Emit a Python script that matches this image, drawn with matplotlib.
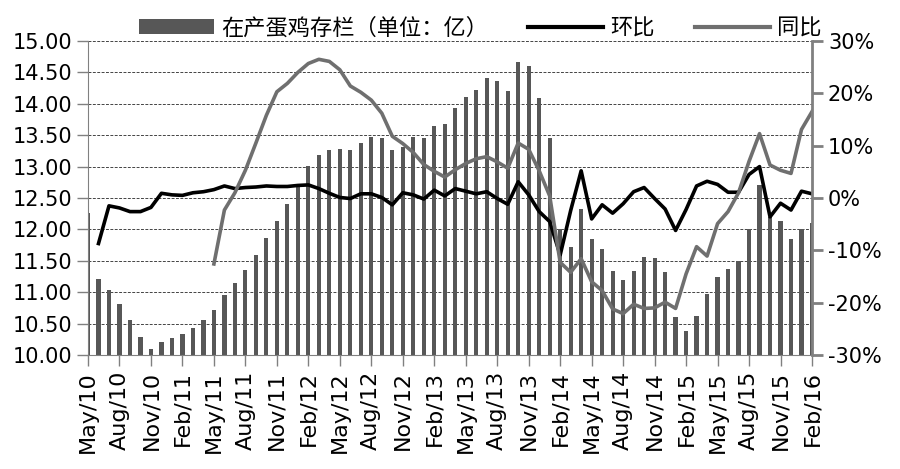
import numpy as np
import pandas as pd
import matplotlib
matplotlib.use('Agg')
import matplotlib.pyplot as plt
from matplotlib.patches import Patch
from matplotlib.lines import Line2D

plt.rcParams['font.family'] = ['DejaVu Sans', 'Noto Sans CJK SC']
plt.rcParams['axes.unicode_minus'] = False

# ─── Data ───────────────────────────────────────────────────────────
months = pd.date_range('2010-05-01', periods=70, freq='MS').strftime('%b/%y').tolist()

# laying hen inventory, 100 million
stock = [12.26, 11.21, 11.03, 10.82, 10.55, 10.28, 10.10, 10.20,
         10.27, 10.34, 10.43, 10.56, 10.72, 10.96, 11.14, 11.35, 11.59, 11.87, 12.14, 12.40,
         12.71, 13.01, 13.19, 13.26, 13.28, 13.26, 13.38, 13.47, 13.46, 13.26, 13.32, 13.47,
         13.45, 13.64, 13.68, 13.93, 14.11, 14.22, 14.41, 14.37, 14.21, 14.66, 14.60, 14.10,
         13.45, 12.00, 11.72, 12.32, 11.84, 11.69, 11.33, 11.19, 11.34, 11.56, 11.54, 11.32,
         10.60, 10.38, 10.62, 10.97, 11.25, 11.37, 11.50, 12.00, 12.71, 12.20, 12.13, 11.85,
         12.00, 12.10]

# month-on-month, %
mom = [np.nan, -8.7, -1.5, -1.9, -2.6, -2.6, -1.8, 0.9,
       0.6, 0.5, 1.0, 1.2, 1.6, 2.3, 1.8, 2.0, 2.1, 2.3, 2.2, 2.2,
       2.4, 2.5, 1.8, 0.9, 0.1, -0.1, 0.8, 0.8, 0.1, -1.3, 1.0, 0.6,
       -0.2, 1.5, 0.4, 1.8, 1.3, 0.8, 1.2, -0.1, -1.2, 3.1, 0.6, -2.6,
       -4.5, -10.9, -2.4, 5.2, -4.0, -1.3, -2.9, -1.1, 1.2, 2.0, -0.1, -2.1,
       -6.2, -2.2, 2.3, 3.2, 2.6, 1.1, 1.1, 4.5, 6.0, -3.6, -1.0, -2.3,
       1.3, 0.8]

# year-on-year, % (starts May/11)
yoy = [np.nan] * 12 + [
       -12.6, -2.3, 1.0, 5.3, 10.5, 15.8, 20.3, 21.9,
       24.0, 25.7, 26.5, 26.1, 24.5, 21.4, 20.2, 18.7, 16.2, 11.8, 10.4, 8.7,
       6.4, 5.1, 4.0, 5.4, 6.6, 7.5, 7.9, 6.9, 5.7, 10.5, 9.3, 5.2,
       0.4, -12.3, -14.2, -11.6, -16.0, -17.7, -21.2, -22.1, -20.3, -21.1, -21.0, -19.9,
       -21.1, -14.5, -9.3, -11.1, -4.9, -2.6, 1.0, 7.0, 12.3, 6.3, 5.3, 4.7,
       13.1, 16.5]

left_ticks = [10.0, 10.5, 11.0, 11.5, 12.0, 12.5, 13.0, 13.5, 14.0, 14.5, 15.0]
right_ticks = [-30, -20, -10, 0, 10, 20, 30]

bar_color = '#575757'
gray_line = '#6f6f6f'
axis_gray = '#808080'

x = np.arange(len(months))

fig = plt.figure(figsize=(9, 4.69), dpi=100)
ax = fig.add_axes([88 / 900, 1 - 355 / 469, (812 - 88) / 900, (355 - 41) / 469])

ax.bar(x, stock, width=0.4, color=bar_color, zorder=2)
ax.set_xlim(0, len(months) - 1)
ax.set_ylim(10, 15)
ax.set_yticks(left_ticks)
ax.set_yticklabels([f'{v:.2f}' for v in left_ticks], fontsize=15)
ax.yaxis.grid(True, linestyle=(0, (3, 1.5)), color='#444444', linewidth=0.7)
ax.set_axisbelow(True)

ax.set_xticks(x[::3])
ax.set_xticklabels(months[::3], rotation=90, fontsize=16)

for side in ['top', 'right']:
    ax.spines[side].set_visible(False)
ax.spines['left'].set_color(axis_gray)
ax.spines['bottom'].set_color(axis_gray)
ax.tick_params(axis='both', colors=axis_gray, length=8, width=1, labelcolor='black')

# ─── Right axis: MoM and YoY ────────────────────────────────────────
ax2 = ax.twinx()
ax2.plot(x, mom, color='black', linewidth=2.6, solid_joinstyle='round')
ax2.plot(x, yoy, color=gray_line, linewidth=2.6, solid_joinstyle='round')
ax2.set_ylim(-30, 30)
ax2.set_yticks(right_ticks)
ax2.set_yticklabels([f'{v}%' for v in right_ticks], fontsize=15)
for side in ['top', 'left', 'bottom']:
    ax2.spines[side].set_visible(False)
ax2.spines['right'].set_color(axis_gray)
ax2.spines['right'].set_linewidth(2)
ax2.tick_params(axis='y', colors=axis_gray, length=8, width=2, labelcolor='black')

# ─── Legend ─────────────────────────────────────────────────────────
handles = [Patch(facecolor=bar_color, edgecolor='none'),
           Line2D([], [], color='black', linewidth=3),
           Line2D([], [], color=gray_line, linewidth=3)]
labels = ['在产蛋鸡存栏（单位：亿）', '环比', '同比']
fig.legend(handles, labels, loc='center', bbox_to_anchor=(480 / 900, 1 - 28 / 469),
           ncol=3, frameon=False, handlelength=3.4, handleheight=0.65,
           handletextpad=0.3, columnspacing=1.8,
           prop={'family': ['Noto Sans CJK SC', 'DejaVu Sans'], 'size': 16})

plt.savefig('out.png', dpi=100)
